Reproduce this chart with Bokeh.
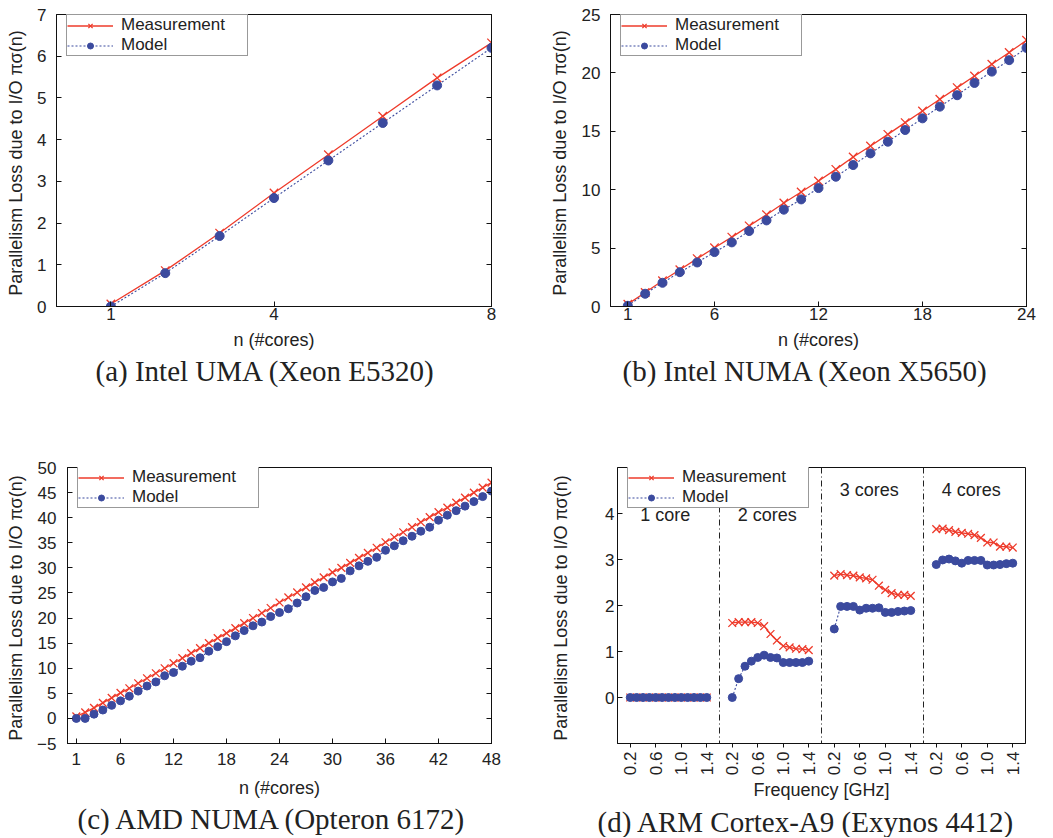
import math
from bokeh.plotting import figure
from bokeh.models import (FixedTicker, LinearAxis, Legend, LegendItem,
                          Title, Span, Range1d, ColumnDataSource)
from bokeh.layouts import row, column
from bokeh.embed import file_html
from bokeh.resources import INLINE
from bokeh.core.properties import value

# ---------------- data ----------------
a_n = [1, 2, 3, 4, 5, 6, 7, 8]
a_meas = [0.06, 0.86, 1.76, 2.72, 3.64, 4.56, 5.48, 6.32]
a_model = [0.0, 0.80, 1.69, 2.60, 3.50, 4.40, 5.30, 6.20]

b_n = list(range(1, 25))
b_meas = [0.2, 1.2, 2.2, 3.15, 4.1, 5.03, 5.94, 6.9, 7.86, 8.86, 9.8, 10.74,
          11.74, 12.8, 13.74, 14.74, 15.74, 16.74, 17.74, 18.74, 19.74, 20.74,
          21.74, 22.8]
b_model = [0.06, 1.09, 2.03, 2.94, 3.77, 4.66, 5.49, 6.46, 7.37, 8.29, 9.17,
           10.14, 11.11, 12.11, 13.11, 14.11, 15.11, 16.11, 17.11, 18.09, 19.14,
           20.11, 21.09, 22.14]

c_n = list(range(1, 49))
c_meas = [0.4, 1.2, 2.1, 3.1, 4.1, 5.1, 6.0, 7.0, 8.0, 9.0, 10.0, 11.0, 12.0,
          13.0, 14.0, 15.0, 16.0, 17.0, 18.0, 19.0, 20.0, 21.0, 22.0, 23.1,
          24.1, 25.1, 26.1, 27.1, 28.1, 29.1, 30.0, 31.0, 32.0, 33.0, 34.0,
          35.1, 36.1, 37.1, 38.1, 39.1, 40.1, 41.1, 42.0, 43.0, 44.0, 45.0,
          46.0, 47.0]
c_model = [0.0, 0.0, 0.85, 1.67, 2.6, 3.5, 4.43, 5.44, 6.45, 7.27, 8.5, 9.15,
           10.4, 11.4, 12.1, 13.4, 14.3, 15.3, 16.45, 17.5, 18.45, 19.2, 20.3,
           21.1, 21.85, 23.0, 24.25, 25.5, 26.1, 27.2, 27.9, 29.4, 30.4, 31.3,
           32.1, 33.5, 34.4, 35.4, 36.3, 37.3, 38.1, 39.5, 40.5, 41.4, 42.3,
           43.2, 44.2, 45.3]

d_freq = [0.2, 0.3, 0.4, 0.5, 0.6, 0.7, 0.8, 0.9, 1.0, 1.1, 1.2, 1.3, 1.4]
d_groups = ["1 core", "2 cores", "3 cores", "4 cores"]
d_meas = [
    [0.0] * 13,
    [1.62, 1.64, 1.64, 1.64, 1.62, 1.55, 1.38, 1.24, 1.12, 1.09, 1.06, 1.05, 1.03],
    [2.65, 2.68, 2.66, 2.65, 2.61, 2.59, 2.56, 2.43, 2.34, 2.27, 2.23, 2.23, 2.21],
    [3.66, 3.67, 3.64, 3.60, 3.58, 3.56, 3.53, 3.47, 3.37, 3.37, 3.28, 3.28, 3.26],
]
d_model = [
    [0.0] * 13,
    [0.0, 0.41, 0.68, 0.79, 0.87, 0.92, 0.87, 0.86, 0.76, 0.76, 0.76, 0.76, 0.79],
    [1.49, 1.98, 1.98, 1.98, 1.90, 1.94, 1.94, 1.95, 1.85, 1.85, 1.87, 1.88, 1.89],
    [2.89, 2.99, 3.01, 2.97, 2.92, 2.98, 2.98, 2.98, 2.88, 2.88, 2.89, 2.91, 2.92],
]
d_label_y = [3.96, 3.96, 4.52, 4.52]
d_tick_freqs = [0.2, 0.6, 1.0, 1.4]

captions = ["(a) Intel UMA (Xeon E5320)", "(b) Intel NUMA (Xeon X5650)",
            "(c) AMD NUMA (Opteron 6172)", "(d) ARM Cortex-A9 (Exynos 4412)"]
y_title = "Parallelism Loss due to I/O  πσ(n)"

# ---------------- style ----------------
RED = "#ee3b2b"
BLUE = "#3b4a9e"
SANS = "Liberation Sans"
SERIF = "Liberation Serif"
TXT = "#222222"
EDGE = "#111111"


def base_fig(width, height, mb, xr, yr, caption, cap_left):
    p = figure(width=width, height=height, x_range=Range1d(*xr), y_range=Range1d(*yr),
               output_backend="svg", toolbar_location=None, title=None,
               min_border_left=mb[0], min_border_right=mb[1],
               min_border_top=mb[2], min_border_bottom=mb[3])
    p.grid.visible = False
    p.outline_line_color = EDGE
    p.outline_line_width = 1
    p.background_fill_color = "white"
    p.border_fill_color = "white"
    for ax in p.axis:
        ax.axis_line_color = EDGE
        ax.major_tick_line_color = EDGE
        ax.minor_tick_line_color = None
        ax.major_label_text_font = SANS
        ax.major_label_text_font_size = "17px"
        ax.major_label_text_color = TXT
        ax.axis_label_text_font = SANS
        ax.axis_label_text_font_size = "18px"
        ax.axis_label_text_font_style = "normal"
        ax.axis_label_text_color = TXT
    t = Title(text=caption, align="left", text_font=SERIF, text_font_size="29px",
              text_font_style="normal", text_color=TXT, standoff=0, offset=cap_left)
    p.add_layout(t, "below")
    p.yaxis[0].axis_label = y_title
    return p


def add_legend(p, h, meas_r, model_r):
    lh = 37
    lg = Legend(items=[LegendItem(label="Measurement", renderers=meas_r),
                       LegendItem(label="Model", renderers=model_r)],
                location=(10, h - 5 - lh), orientation="vertical",
                label_text_font=SANS, label_text_font_size="17px",
                label_text_line_height=0.85,
                label_text_color=TXT, glyph_width=46, glyph_height=15,
                label_height=15, label_width=126, label_standoff=8,
                padding=0, spacing=0, margin=0,
                border_line_color="#333333", border_line_width=1,
                background_fill_color="white", background_fill_alpha=1.0)
    p.add_layout(lg)


def line_panel(width, height, mb, xr, yr, xticks, yticks, n, meas, model,
               caption, cap_left, msize, xstd, xlstd, ystd, ylstd):
    p = base_fig(width, height, mb, xr, yr, caption, cap_left)
    h = height - mb[2] - mb[3]
    xa = p.xaxis[0]
    xa.ticker = FixedTicker(ticks=xticks)
    xa.major_tick_in = 5
    xa.major_tick_out = 0
    xa.major_label_standoff = xstd
    xa.axis_label = "n (#cores)"
    xa.axis_label_standoff = xlstd
    ya = p.yaxis[0]
    ya.ticker = FixedTicker(ticks=yticks)
    ya.major_tick_in = 5
    ya.major_tick_out = 0
    ya.major_label_standoff = ystd
    ya.axis_label_standoff = ylstd
    ra = LinearAxis(ticker=FixedTicker(ticks=yticks),
                    major_label_overrides={t: "" for t in yticks},
                    major_tick_in=5, major_tick_out=0, major_label_standoff=0,
                    axis_line_color=EDGE, major_tick_line_color=EDGE,
                    minor_tick_line_color=None)
    p.add_layout(ra, "right")

    src = ColumnDataSource(dict(n=n, meas=meas, model=model))
    ml = p.line("n", "meas", source=src, line_color=RED, line_width=1.3)
    ms = p.scatter("n", "meas", source=src, marker="x", size=msize + 3,
                   line_color=RED, line_width=1.3)
    dl = p.line("n", "model", source=src, line_color=BLUE, line_width=1.1,
                line_dash="2 2")
    ds = p.scatter("n", "model", source=src, marker="circle", size=msize,
                   fill_color=BLUE, line_color=BLUE)
    add_legend(p, h, [ml, ms], [dl, ds])
    return p


# panel geometry (page has no margin: canvas == picture coordinates)
W_L, W_R = 535, 516
H1, H2 = 440, 397
MB2 = (27, 93)  # row 2 top / bottom borders (frames of a row are aligned)

pa = line_panel(W_L, H1, (56, 44, 14, 134), (0, 8), (0, 7), [1, 4, 8],
                list(range(0, 8)), a_n, a_meas, a_model, captions[0], 39, 9,
                1, 7, 10, 8)
pb = line_panel(W_R, H1, (75, 25, 14, 134), (0, 24), (0, 25), [1, 6, 12, 18, 24],
                list(range(0, 26, 5)), b_n, b_meas, b_model, captions[1], 12, 9,
                1, 7, 10, 9)
pc = line_panel(W_L, H2, (67, 44) + MB2, (0, 48), (-5, 50), [1] + list(range(6, 49, 6)),
                list(range(-5, 51, 5)), c_n, c_meas, c_model, captions[2], 10, 8,
                9, 10, 11, 8)

# ---------------- panel d ----------------
mbd = (82, 26) + MB2
pd_ = base_fig(W_R, H2, mbd, (-2, 62), (-1, 5), captions[3], -20)
hd = H2 - mbd[2] - mbd[3]
step = 16  # 13 frequencies + gap of 3 positions per group
pos = [round((f - d_freq[0]) / 0.1) for f in d_freq]

xa = pd_.xaxis[0]
tick_pos, tick_lab = [], {}
for g in range(len(d_groups)):
    for f in d_tick_freqs:
        x = g * step + round((f - d_freq[0]) / 0.1)
        tick_pos.append(x)
        tick_lab[x] = f"{f:.1f}"
xa.ticker = FixedTicker(ticks=tick_pos)
xa.major_label_overrides = tick_lab
xa.major_label_orientation = math.pi / 2
xa.major_tick_in = 0
xa.major_tick_out = 4
xa.major_label_standoff = 4
xa.axis_label = "Frequency [GHz]"
xa.axis_label_standoff = 2
ya = pd_.yaxis[0]
ya.ticker = FixedTicker(ticks=[0, 1, 2, 3, 4])
ya.major_tick_in = 5
ya.major_tick_out = 0
ya.major_label_standoff = 3
ya.axis_label_standoff = 31

leg_meas, leg_model = None, None
for g in range(len(d_groups)):
    xs = [g * step + p_ for p_ in pos]
    src = ColumnDataSource(dict(x=xs, meas=d_meas[g], model=d_model[g]))
    ml = pd_.line("x", "meas", source=src, line_color=RED, line_width=1.3)
    ms = pd_.scatter("x", "meas", source=src, marker="x", size=11,
                     line_color=RED, line_width=1.3)
    dl = pd_.line("x", "model", source=src, line_color=BLUE, line_width=1.1,
                  line_dash="2 2")
    ds = pd_.scatter("x", "model", source=src, marker="circle", size=8,
                     fill_color=BLUE, line_color=BLUE)
    if g == 0:
        leg_meas, leg_model = [ml, ms], [dl, ds]

for g in range(1, len(d_groups)):
    prev_end = (g - 1) * step + pos[-1]
    start = g * step + pos[0]
    pd_.add_layout(Span(location=(prev_end + start) / 2.0, dimension="height",
                        line_color="#222222", line_width=1, line_dash="6 3 1 3"))

lab_src = ColumnDataSource(dict(
    x=[g * step + (pos[0] + pos[-1]) / 2.0 - 0.5 for g in range(len(d_groups))],
    y=d_label_y, t=d_groups))
pd_.text("x", "y", text="t", source=lab_src, text_font=value(SANS),
         text_font_size="18px", text_color=TXT, text_align="center",
         text_baseline="middle")

add_legend(pd_, hd, leg_meas, leg_model)

layout = column(row(pa, pb), row(pc, pd_))
open("out.html", "w").write(file_html(layout, INLINE))
